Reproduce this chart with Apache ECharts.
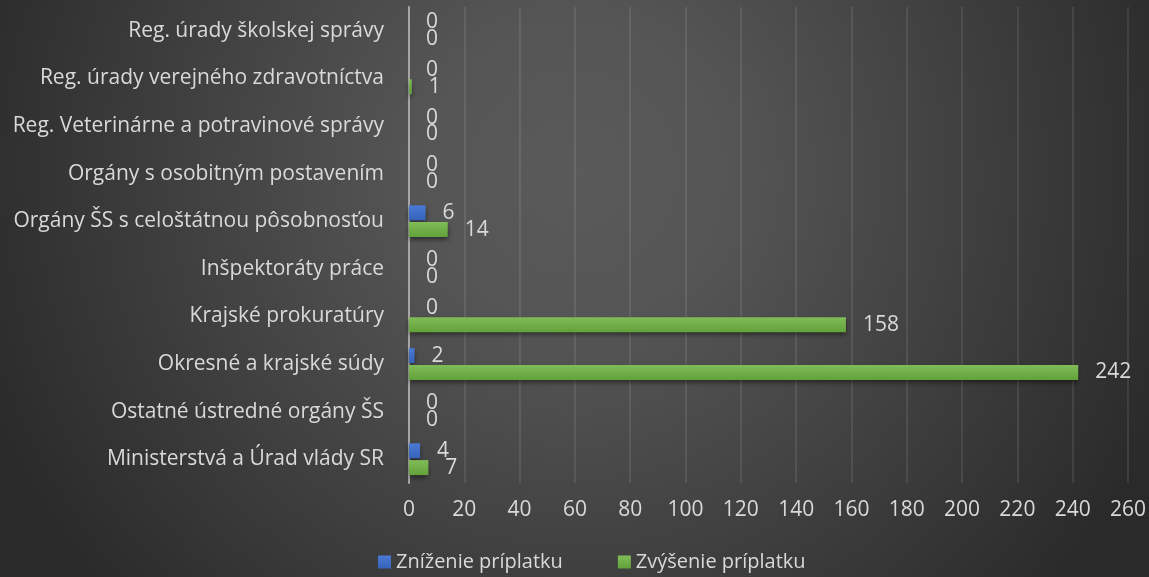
<!DOCTYPE html>
<html lang="sk">
<head>
    <meta charset="UTF-8">
    <title>Zníženie a zvýšenie príplatku</title>
    <script src="https://cdn.jsdelivr.net/npm/echarts@6/dist/echarts.min.js"></script>
    <style>
        html, body { margin: 0; padding: 0; }
        #chart { width: 1149px; height: 577px; }
    </style>
</head>
<body>
    <div id="chart"></div>
    <script>
        // kategórie zhora nadol
        const categories = [
            'Reg. úrady školskej správy',
            'Reg. úrady verejného zdravotníctva',
            'Reg. Veterinárne a potravinové správy',
            'Orgány s osobitným postavením',
            'Orgány ŠS s celoštátnou pôsobnosťou',
            'Inšpektoráty práce',
            'Krajské prokuratúry',
            'Okresné a krajské súdy',
            'Ostatné ústredné orgány ŠS',
            'Ministerstvá a Úrad vlády SR'
        ];
        const znizenie = [0, 0, 0, 0, 6, 0, 0, 2, 0, 4];
        const zvysenie = [0, 1, 0, 0, 14, 0, 158, 242, 0, 7];
        const seriesNames = ['Zníženie príplatku', 'Zvýšenie príplatku'];

        const font = '"Open Sans", "Noto Sans", sans-serif';
        const textColor = '#d9d9d9';

        function barColor(top, bottom) {
            return new echarts.graphic.LinearGradient(0, 0, 0, 1, [
                { offset: 0, color: top },
                { offset: 1, color: bottom }
            ]);
        }

        const chart = echarts.init(document.getElementById('chart'));
        chart.setOption({
            backgroundColor: new echarts.graphic.RadialGradient(0.5, 0.3, 1.1, [
                { offset: 0, color: '#5a5a5a' },
                { offset: 0.25, color: '#555555' },
                { offset: 1, color: '#2a2a2a' }
            ]),
            animation: false,
            textStyle: { fontFamily: font },
            legend: {
                bottom: 0,
                left: 373,
                itemWidth: 13,
                itemHeight: 13,
                itemGap: 55,
                icon: 'rect',
                textStyle: { color: textColor, fontSize: 20, fontFamily: font },
                data: seriesNames
            },
            grid: { left: 409, right: 21, top: 7, bottom: 94 },
            xAxis: {
                type: 'value',
                min: 0,
                max: 260,
                interval: 20,
                axisLine: { show: false },
                axisTick: { show: false },
                axisLabel: { color: textColor, fontSize: 21, margin: 17, fontFamily: font },
                splitLine: { lineStyle: { color: 'rgba(255,255,255,0.09)', width: 2 } }
            },
            yAxis: {
                type: 'category',
                inverse: true,
                data: categories,
                axisLine: { lineStyle: { color: '#a6a6a6', width: 2 } },
                axisTick: { show: false },
                axisLabel: { color: textColor, fontSize: 21, margin: 25, fontFamily: font }
            },
            series: [
                {
                    name: seriesNames[0],
                    type: 'bar',
                    data: znizenie,
                    barWidth: 15,
                    barGap: '12%',
                    itemStyle: {
                        color: barColor('#4a7ad6', '#3563b8'),
                        shadowColor: 'rgba(0,0,0,0.5)',
                        shadowBlur: 5,
                        shadowOffsetY: 3
                    },
                    label: {
                        show: true, position: 'right', distance: 17,
                        color: textColor, fontSize: 21, fontFamily: font
                    }
                },
                {
                    name: seriesNames[1],
                    type: 'bar',
                    data: zvysenie,
                    barWidth: 15,
                    itemStyle: {
                        color: barColor('#80bd58', '#62a23a'),
                        shadowColor: 'rgba(0,0,0,0.5)',
                        shadowBlur: 5,
                        shadowOffsetY: 3
                    },
                    label: {
                        show: true, position: 'right', distance: 17,
                        color: textColor, fontSize: 21, fontFamily: font
                    }
                }
            ]
        });
    </script>
</body>
</html>
